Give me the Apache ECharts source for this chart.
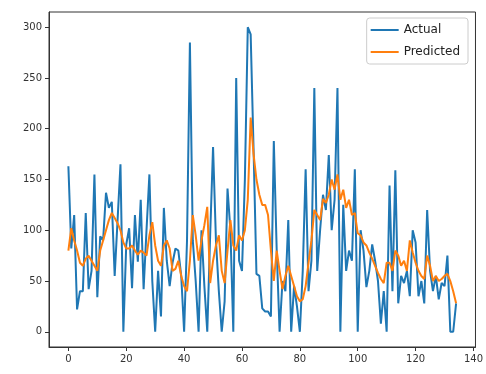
<!DOCTYPE html>
<html>
<head>
<meta charset="utf-8">
<script src="https://cdn.jsdelivr.net/npm/echarts@6/dist/echarts.min.js"></script>
<style>
  html, body { margin: 0; padding: 0; background: #fff; }
  #chart { width: 486px; height: 374px; }
</style>
</head>
<body>
<div id="chart"></div>
<script>
// values, one per sample index 0..134
var actual = [
  163, 82, 115, 22, 40, 40, 117, 42, 60, 155,
  34, 94, 90, 137, 122, 128, 55, 110, 165, 0,
  86, 102, 43, 115, 69, 130, 42, 100, 155, 50,
  0, 60, 15, 122, 70, 45, 68, 82, 80, 55,
  0, 90, 285, 90, 50, 0, 100, 45, 0, 95,
  182, 90, 40, 0, 30, 141, 100, 0, 250, 70,
  60, 150, 300, 293, 180, 57, 55, 23, 20, 20,
  15, 188, 80, 0, 50, 40, 110, 0, 45, 25,
  0, 60, 160, 40, 70, 240, 60, 100, 135, 120,
  174, 100, 130, 240, 0, 125, 60, 80, 70, 160,
  0, 100, 80, 44, 60, 86, 70, 50, 8, 40,
  0, 144, 40, 159, 28, 55, 48, 60, 35, 100,
  88, 35, 50, 28, 120, 60, 40, 55, 32, 48,
  45, 75, 0, 0, 28
];
var predicted = [
  80, 102, 90, 80, 68, 65, 72, 75, 70, 65,
  60, 80, 90, 100, 110, 117, 112, 107, 100, 88,
  82, 82, 85, 80, 76, 80, 78, 75, 95, 108,
  85, 70, 65, 85, 90, 82, 60, 62, 70, 55,
  45, 40, 70, 115, 95, 70, 90, 105, 123, 48,
  70, 85, 95, 60, 48, 80, 110, 85, 80, 95,
  90, 100, 130, 211, 175, 150, 135, 125, 125, 115,
  80, 50, 80, 60, 42, 55, 65, 55, 45, 35,
  30, 32, 45, 68, 90, 120, 115, 110, 131, 127,
  135, 150, 140, 155, 130, 140, 122, 130, 115, 117,
  97, 95, 88, 85, 78, 72, 65, 58, 52, 48,
  68, 68, 60, 80, 75, 65, 70, 60, 90, 78,
  68, 60, 55, 52, 75, 65, 50, 55, 50, 52,
  55, 57, 50, 40, 28
];
var xTicks = [0, 20, 40, 60, 80, 100, 120, 140];
var yTicks = [0, 50, 100, 150, 200, 250, 300];

function toPairs(arr) {
  var out = [];
  for (var i = 0; i < arr.length; i++) {
    out.push([i, arr[i]]);
  }
  return out;
}

var myChart = echarts.init(document.getElementById('chart'));
var labelStyle = {
  color: '#333',
  fontFamily: 'DejaVu Sans',
  fontSize: 10
};
var option = {
  animation: false,
  grid: {
    left: 49, right: 9, top: 12, bottom: 27,
    show: true,
    borderColor: '#333',
    borderWidth: 1
  },
  legend: {
    orient: 'vertical',
    right: 18,
    top: 18,
    padding: [6, 8, 6, 4],
    itemGap: 10,
    itemWidth: 28,
    itemHeight: 2,
    icon: 'rect',
    borderColor: '#ccc',
    borderWidth: 1,
    borderRadius: 3,
    textStyle: { color: '#222', fontFamily: 'DejaVu Sans', fontSize: 12 },
    data: ['Actual', 'Predicted']
  },
  xAxis: {
    type: 'value',
    min: -6.7,
    max: 140.7,
    axisLine: { show: true, onZero: false, lineStyle: { color: '#333' } },
    axisTick: { show: true, length: 4, customValues: xTicks, lineStyle: { color: '#333' } },
    axisLabel: Object.assign({ customValues: xTicks, margin: 7 }, labelStyle),
    splitLine: { show: false }
  },
  yAxis: {
    type: 'value',
    min: -15,
    max: 315,
    axisLine: { show: true, onZero: false, lineStyle: { color: '#333' } },
    axisTick: { show: true, length: 4, customValues: yTicks, lineStyle: { color: '#333' } },
    axisLabel: Object.assign({ customValues: yTicks, margin: 7 }, labelStyle),
    splitLine: { show: false }
  },
  series: [
    {
      name: 'Actual',
      type: 'line',
      data: toPairs(actual),
      showSymbol: false,
      symbol: 'none',
      itemStyle: { color: '#1f77b4' },
      lineStyle: { width: 2, color: '#1f77b4' }
    },
    {
      name: 'Predicted',
      type: 'line',
      data: toPairs(predicted),
      showSymbol: false,
      symbol: 'none',
      itemStyle: { color: '#ff7f0e' },
      lineStyle: { width: 2, color: '#ff7f0e' }
    }
  ]
};
myChart.setOption(option);
window.onresize = myChart.resize;
</script>
</body>
</html>
